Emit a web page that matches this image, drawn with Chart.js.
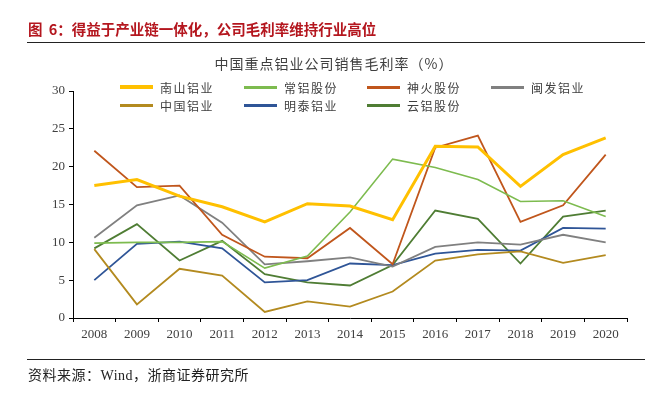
<!DOCTYPE html>
<html>
<head>
<meta charset="utf-8">
<script src="https://cdn.jsdelivr.net/npm/chart.js@4"></script>
<style>
  body { margin: 0; width: 649px; height: 399px; background: #fff; position: relative; overflow: hidden; }
  #title { position: absolute; left: 28px; top: 18px; font: bold 14.5px "Noto Sans CJK SC"; color: #B4161E; white-space: nowrap; word-spacing: 3px; }
  .rule { position: absolute; left: 27px; width: 618px; height: 1px; background: #222; }
  #ctitle { position: absolute; left: 0; width: 668px; top: 53px; text-align: center; font: 14px "Noto Sans CJK SC"; color: #404040; letter-spacing: 1px; }
  #legend { position: absolute; left: 0; top: 0; }
  .item { position: absolute; height: 16px; display: flex; align-items: center; font: 12px "Noto Sans CJK SC"; color: #404040; letter-spacing: 1.5px; white-space: nowrap; }
  .item span { display: inline-block; width: 33px; margin-right: 7px; }
  #c { position: absolute; left: 0; top: 0; }
  #src { position: absolute; left: 28px; top: 364px; font: 14px "Liberation Serif", "Noto Sans CJK SC"; color: #222; white-space: nowrap; letter-spacing: 0.5px; }
</style>
</head>
<body>
<canvas id="c" width="649" height="399"></canvas>
<div id="title">图 6：得益于产业链一体化，公司毛利率维持行业高位</div>
<div class="rule" style="top:42px"></div>
<div id="ctitle">中国重点铝业公司销售毛利率（%）</div>
<div id="legend"></div>
<div class="rule" style="top:359px"></div>
<div id="src">资料来源：Wind，浙商证券研究所</div>
<script>
const years = ['2008','2009','2010','2011','2012','2013','2014','2015','2016','2017','2018','2019','2020'];
const yTicks = [0, 5, 10, 15, 20, 25, 30];

const nanshan  = [17.5, 18.3, 16.1, 14.7, 12.7, 15.1, 14.8, 13.0, 22.7, 22.6, 17.4, 21.6, 23.8];
const changlv  = [9.9, 10.0, 10.0, 10.1, 6.6, 8.2, 14.0, 21.0, 19.9, 18.3, 15.4, 15.5, 13.4];
const shenhuo  = [22.1, 17.3, 17.5, 11.0, 8.1, 7.9, 11.9, 7.1, 22.5, 24.1, 12.7, 14.9, 21.6];
const minfa    = [10.6, 14.9, 16.2, 12.6, 7.1, 7.5, 8.0, 6.8, 9.4, 10.0, 9.7, 11.0, 10.0];
const chalco   = [9.1, 1.8, 6.5, 5.6, 0.8, 2.2, 1.5, 3.5, 7.6, 8.4, 8.8, 7.3, 8.3];
const mingtai  = [5.0, 9.8, 10.1, 9.2, 4.7, 5.0, 7.2, 7.0, 8.5, 9.0, 8.9, 11.9, 11.8];
const yunlv    = [9.2, 12.4, 7.6, 10.2, 5.8, 4.7, 4.3, 7.0, 14.2, 13.1, 7.2, 13.4, 14.2];

const series = [
  { name: '南山铝业', data: nanshan, color: '#FFC000', width: 3,   col: 0, row: 0 },
  { name: '常铝股份', data: changlv, color: '#7DBB4F', width: 1.6, col: 1, row: 0 },
  { name: '神火股份', data: shenhuo, color: '#C0561C', width: 1.8, col: 2, row: 0 },
  { name: '闽发铝业', data: minfa,   color: '#808080', width: 1.8, col: 3, row: 0 },
  { name: '中国铝业', data: chalco,  color: '#B38A1F', width: 1.8, col: 0, row: 1 },
  { name: '明泰铝业', data: mingtai, color: '#2F5597', width: 1.8, col: 1, row: 1 },
  { name: '云铝股份', data: yunlv,   color: '#4F7D34', width: 1.8, col: 2, row: 1 }
];

// legend laid out as a grid like the original
const colX = [120, 244, 367, 491];
const rowY = [79, 97];
const legend = document.getElementById('legend');
series.forEach(s => {
  const d = document.createElement('div');
  d.className = 'item';
  d.style.left = colX[s.col] + 'px';
  d.style.top = rowY[s.row] + 'px';
  d.innerHTML = '<span style="height:' + (s.width > 2 ? 4 : 3) + 'px;background:' + s.color + '"></span>' + s.name;
  legend.appendChild(d);
});

const tickFont = { family: 'Liberation Serif', size: 13 };

new Chart(document.getElementById('c'), {
  type: 'line',
  data: {
    labels: years,
    datasets: series.map(s => ({
      label: s.name,
      data: s.data,
      borderColor: s.color,
      borderWidth: s.width,
      pointRadius: 0,
      tension: 0,
      fill: false
    }))
  },
  options: {
    responsive: false,
    animation: false,
    devicePixelRatio: 1,
    layout: { padding: { left: 0, right: 22, top: 91, bottom: 57 } },
    plugins: { legend: { display: false }, title: { display: false }, tooltip: { enabled: false } },
    scales: {
      x: {
        offset: true,
        grid: { display: true, offset: true, drawOnChartArea: false, tickLength: 4, color: '#000' },
        border: { color: '#000', width: 1 },
        ticks: { font: tickFont, color: '#404040', padding: 5, maxRotation: 0 },
        afterFit: s => { s.height = 24; }
      },
      y: {
        min: 0, max: 30,
        afterBuildTicks: s => { s.ticks = yTicks.map(v => ({ value: v })); },
        grid: { display: true, drawOnChartArea: false, tickLength: 4, color: '#000' },
        border: { color: '#000', width: 1 },
        ticks: { font: tickFont, color: '#404040', padding: 4 },
        afterFit: s => { s.width = 73; }
      }
    }
  }
});
</script>
</body>
</html>
